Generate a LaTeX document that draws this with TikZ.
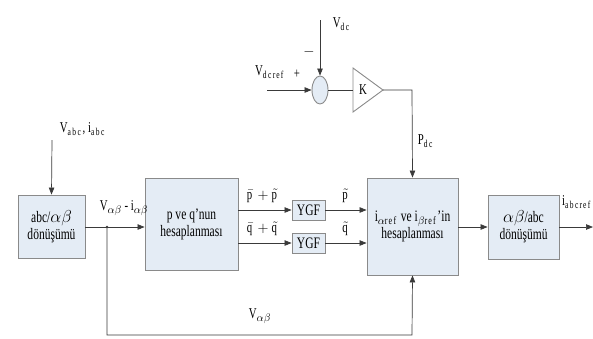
\documentclass[tikz,border=0pt]{standalone}
\usepackage{fontspec}
\setmainfont[FakeStretch=0.72]{Liberation Serif}
\usetikzlibrary{arrows.meta,shapes.geometric}
\definecolor{boxfill}{HTML}{E4ECF5}
\definecolor{boxline}{HTML}{8A8A8A}
\definecolor{wire}{HTML}{3A3A3A}
\tikzset{
  blk/.style={draw=boxline,fill=boxfill,line width=0.9pt,align=center,inner sep=0pt,font=\fontsize{16}{17}\selectfont},
  wr/.style={draw=wire,line width=0.7pt},
  arr/.style={wr,-{Triangle[length=7pt,width=5.5pt]}},
  lbl/.style={font=\fontsize{15}{16}\selectfont,inner sep=0.5pt}
}
\begin{document}
\begin{tikzpicture}[x=1pt,y=-1pt]
\useasboundingbox (0,0) rectangle (593,338);
% blocks
\node[blk,minimum width=67pt,minimum height=63pt] (conv1) at (51.5,226.5) {abc/$\alpha\beta$\\dönüşümü};
\node[blk,minimum width=93pt,minimum height=92pt] (pq) at (191.5,224) {p ve q’nun\\hesaplanması};
\node[blk,minimum width=33pt,minimum height=20pt] (ygf1) at (308.5,210) {YGF};
\node[blk,minimum width=33pt,minimum height=20pt] (ygf2) at (308.5,243) {YGF};
\node[blk,minimum width=91pt,minimum height=97pt] (ref) at (412.5,226.5) {i$_{\alpha\mathrm{ref}}$ ve i$_{\beta\mathrm{ref}}$’in\\hesaplanması};
\node[blk,minimum width=71pt,minimum height=64pt] (conv2) at (523.5,227) {$\alpha\beta$/abc\\dönüşümü};
\node[draw=boxline,fill=boxfill,line width=0.9pt,ellipse,minimum width=16pt,minimum height=28pt,inner sep=0pt] (sum) at (320,90) {};
% gain triangle
\coordinate (kin) at (353,90);
\coordinate (kout) at (383,90);
\draw[draw=boxline,fill=white,line width=0.9pt] (353,68) -- (kout) -- (353,112) -- cycle;
\node[lbl] (k) at (363,90) {K};
% free ends
\coordinate (vabcin) at (52,140);
\coordinate (vdcrefin) at (267,90);
\coordinate (vdcin) at (320,20);
\coordinate (jn) at (107,227);
\coordinate (pbend) at (412,90);
\coordinate (out) at (593,227);
\coordinate (fb1) at (107,335);
\coordinate (fb2) at (412,335);
% connectors
\draw[arr] (vabcin) -- (conv1.north);
\draw[arr] (conv1.east |- jn) -- (pq.west |- jn);
\fill[wire] (jn) circle (1.4pt);
\draw[arr] (pq.east |- ygf1) -- (ygf1.west);
\draw[arr] (pq.east |- ygf2) -- (ygf2.west);
\draw[arr] (ygf1.east) -- (ref.west |- ygf1);
\draw[arr] (ygf2.east) -- (ref.west |- ygf2);
\draw[arr] (vdcrefin) -- (sum.west);
\draw[arr] (vdcin) -- (sum.north);
\draw[wr] (sum.east) -- (kin);
\draw[arr] (kout) -- (pbend) -- (ref.north);
\draw[arr] (ref.east |- jn) -- (conv2.west |- jn);
\draw[arr] (conv2.east |- out) -- (out);
\draw[arr] (jn) -- (fb1) -- (fb2) -- (ref.south);
% labels
\node[lbl] (l1) at (83,129) {V$_{\mathrm{abc}}$, i$_{\mathrm{abc}}$};
\node[lbl] (l2) at (124,208) {V$_{\alpha\beta}$ - i$_{\alpha\beta}$};
\node[lbl] (l3) at (263,196) {$\bar{\mathrm{p}}+\tilde{\mathrm{p}}$};
\node[lbl] (l4) at (263,229) {$\bar{\mathrm{q}}+\tilde{\mathrm{q}}$};
\node[lbl] (l5) at (346,196) {$\tilde{\mathrm{p}}$};
\node[lbl] (l6) at (346,229) {$\tilde{\mathrm{q}}$};
\node[lbl] (l7) at (270,72) {V$_{\mathrm{dcref}}$};
\node[lbl] (l8) at (297,74) {+};
\node[lbl] (l9) at (342,24) {V$_{\mathrm{dc}}$};
\node[lbl] (l10) at (309,52) {$-$};
\node[lbl] (l11) at (426,141) {P$_{\mathrm{dc}}$};
\node[lbl] (l12) at (577,202) {i$_{\mathrm{abcref}}$};
\node[lbl] (l13) at (260,316) {V$_{\alpha\beta}$};
\end{tikzpicture}
\end{document}
